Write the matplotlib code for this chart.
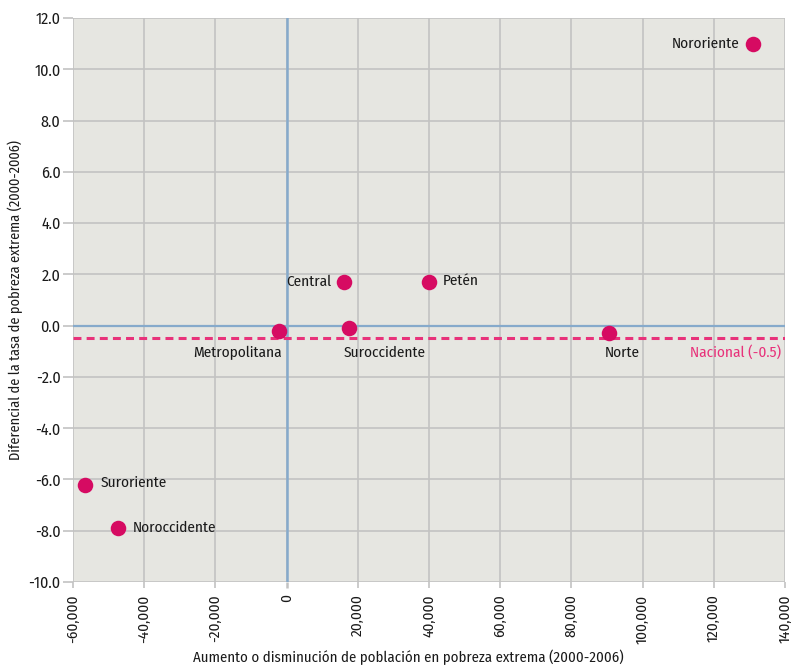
import matplotlib
matplotlib.use("Agg")
import matplotlib.pyplot as plt
from matplotlib import font_manager as fm
from matplotlib.ticker import FuncFormatter, MultipleLocator

regions = ["Nororiente", "Central", "Petén", "Metropolitana", "Suroccidente",
           "Norte", "Suroriente", "Noroccidente"]
x_vals = [131000, 16000, 40000, -2000, 17500, 90500, -56500, -47500]
y_vals = [11.0, 1.7, 1.7, -0.2, -0.1, -0.3, -6.2, -7.9]
nacional = -0.5
nacional_label = "Nacional (-0.5)"
xlabel = "Aumento o disminución de población en pobreza extrema (2000-2006)"
ylabel = "Diferencial de la tasa de pobreza extrema (2000-2006)"

# label placement (pixel offsets, alignment)
label_pos = {
    "Nororiente": (-13, 0, "right", "center"),
    "Central": (-12, 0, "right", "center"),
    "Petén": (14, 1, "left", "center"),
    "Metropolitana": (2, -22, "right", "center"),
    "Suroccidente": (-5, -25, "left", "center"),
    "Norte": (-4, -20, "left", "center"),
    "Suroriente": (15, 2, "left", "center"),
    "Noroccidente": (15, 0, "left", "center"),
}

names = {f.name for f in fm.fontManager.ttflist}
family = None
for cand in ["Fira Sans Condensed", "PT Sans Narrow"]:
    if cand in names:
        family = cand
        break
if family is None:
    plt.rcParams["font.family"] = ["DejaVu Sans"]
    plt.rcParams["font.stretch"] = "condensed"
else:
    plt.rcParams["font.family"] = [family, "DejaVu Sans"]

FS = 11
TXT = "#1a1a1a"
BLUE = "#86aacb"
GRID = "#c2c2c2"
fig = plt.figure(figsize=(7.92, 6.66), dpi=100)
ax = fig.add_axes([73/792, 1-582/666, (785-73)/792, (582-18)/666])
ax.set_facecolor("#e6e6e1")
ax.set_xlim(-60000, 140000)
ax.set_ylim(-10, 12)
ax.xaxis.set_major_locator(MultipleLocator(20000))
ax.yaxis.set_major_locator(MultipleLocator(2))
ax.grid(True, color=GRID, linewidth=1.2)
for s in ax.spines.values():
    s.set_visible(False)
ax.axvline(0, color=BLUE, linewidth=1.8, zorder=1.7)
ax.axhline(0, color=BLUE, linewidth=1.6, zorder=1.7)
ax.axhline(nacional, color="#e8327a", linewidth=2.2, linestyle=(0, (2.6, 1.7)), zorder=2)

ax.scatter(x_vals, y_vals, s=125, color="#d60b62", zorder=3, linewidths=0)

for name, xv, yv in zip(regions, x_vals, y_vals):
    dx, dy, ha, va = label_pos[name]
    ax.annotate(name, (xv, yv), xytext=(dx, dy), textcoords="offset pixels",
                ha=ha, va=va, fontsize=FS, color=TXT, zorder=4)

ax.annotate(nacional_label, (140000, nacional), xytext=(-4, -14), textcoords="offset pixels",
            ha="right", va="center", fontsize=FS, color="#e8327a")

ax.xaxis.set_major_formatter(FuncFormatter(lambda v, p: f"{int(v):,}"))
ax.yaxis.set_major_formatter(FuncFormatter(lambda v, p: f"{v:.1f}"))
ax.tick_params(axis="x", labelrotation=90, labelsize=FS, length=4, color=GRID, width=1.2,
               labelcolor=TXT, pad=5)
ax.tick_params(axis="y", labelsize=11.5, length=7, color=GRID, width=1.2, labelcolor=TXT, pad=2)

fig.canvas.draw()
for t in ax.xaxis.get_major_ticks():
    if abs(t.get_loc()) < 1e-9:
        t.tick1line.set_color(BLUE)
        t.tick1line.set_markeredgewidth(1.8)
for t in ax.yaxis.get_major_ticks():
    if abs(t.get_loc()) < 1e-9:
        t.tick1line.set_color(BLUE)

fig.text(408/792, 1-657/666, xlabel, fontsize=10.7, color=TXT, ha="center", va="center")
fig.text(15/792, 1-300/666, ylabel, fontsize=10.3, color=TXT, ha="center", va="center",
         rotation=90)

fig.savefig("out.png", dpi=100)
